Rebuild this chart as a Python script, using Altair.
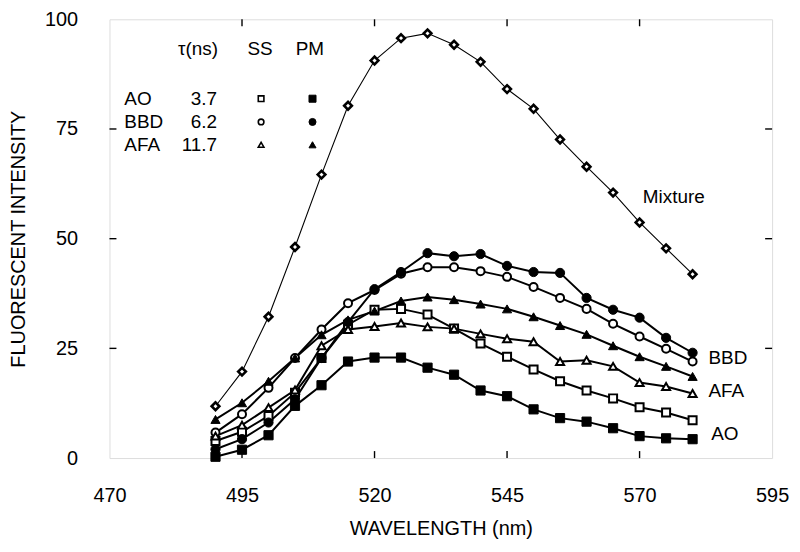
import altair as alt
import pandas as pd

# ---------------- data ----------------
wavelengths = [490, 495, 500, 505, 510, 515, 520, 525, 530, 535,
               540, 545, 550, 555, 560, 565, 570, 575, 580]

mixture = [11.8, 19.7, 32.2, 48.1, 64.6, 80.3, 90.6, 95.7, 96.8, 94.2,
           90.3, 84.1, 79.6, 72.6, 66.4, 60.5, 53.7, 47.8, 41.9]

ao_ss = [3.9, 6.0, 9.6, 14.9, 22.8, 30.4, 33.8, 34.0, 32.7, 29.5,
         26.1, 23.1, 20.2, 17.5, 15.4, 13.6, 11.6, 10.4, 8.6]
ao_pm = [0.3, 1.9, 5.2, 11.9, 16.6, 22.0, 22.9, 22.9, 20.6, 19.0,
         15.4, 14.1, 11.1, 9.1, 8.3, 6.8, 5.0, 4.5, 4.3]
bbd_ss = [5.8, 10.0, 16.0, 22.8, 29.3, 35.3, 38.3, 42.0, 43.5, 43.5,
          42.6, 41.3, 39.0, 36.5, 34.0, 30.6, 27.7, 24.9, 22.0]
bbd_pm = [2.0, 4.3, 8.1, 13.4, 22.8, 31.0, 38.5, 42.4, 46.7, 46.0,
          46.5, 43.8, 42.4, 42.2, 36.5, 33.8, 32.0, 27.4, 24.0]
afa_ss = [5.0, 7.5, 11.5, 15.5, 25.6, 29.3, 30.0, 30.8, 29.9, 29.5,
          28.3, 27.2, 26.5, 22.0, 22.3, 20.9, 17.2, 16.3, 14.7]
afa_pm = [8.8, 12.6, 17.5, 22.8, 28.1, 31.5, 33.5, 35.8, 36.7, 36.1,
          35.1, 34.0, 32.2, 30.2, 28.2, 25.6, 23.1, 20.9, 18.6]

x_tick_values = [470, 495, 520, 545, 570, 595]
y_tick_values = [0, 25, 50, 75, 100]
x_inner_ticks = [495, 520, 545, 570]
y_inner_ticks = [25, 50, 75]

legend_names = ["AO", "BBD", "AFA"]
legend_lifetimes = ["3.7", "6.2", "11.7"]
legend_headers = ["τ(ns)", "SS", "PM"]
end_labels = ["Mixture", "BBD", "AFA", "AO"]

# ---------------- layout constants ----------------
FONT = "Liberation Sans"
X_DOM = [470, 595]
Y_DOM = [0, 100]
W, H = 666, 441

series = {
    "AO SS": (ao_ss, "square", False),
    "AO PM": (ao_pm, "square", True),
    "BBD SS": (bbd_ss, "circle", False),
    "BBD PM": (bbd_pm, "circle", True),
    "AFA SS": (afa_ss, "triangle-up", False),
    "AFA PM": (afa_pm, "triangle-up", True),
}

rows = []
for name, (vals, shp, fill) in series.items():
    for w, v in zip(wavelengths, vals):
        rows.append({"wl": w, "val": v, "series": name, "shape": shp, "filled": fill})
df = pd.DataFrame(rows)
mix_df = pd.DataFrame({"wl": wavelengths, "val": mixture})

xs = alt.Scale(domain=X_DOM, nice=False, zero=False)
ys = alt.Scale(domain=Y_DOM, nice=False, zero=False)

shape_scale = alt.Scale(domain=list(series.keys()),
                        range=[v[1] for v in series.values()])

x_axis = alt.Axis(values=x_tick_values, ticks=False, tickSize=0, domain=False, grid=False,
                  labelFont=FONT, labelFontSize=20, labelColor="black", labelPadding=28,
                  labelFlush=False,
                  title="WAVELENGTH (nm)", titleFont=FONT, titleFontSize=20,
                  titleFontWeight="normal", titleColor="black", titlePadding=13)
y_axis = alt.Axis(values=y_tick_values, ticks=False, tickSize=0, domain=False, grid=False,
                  labelFont=FONT, labelFontSize=20, labelColor="black", labelPadding=32,
                  labelFlush=False,
                  title="FLUORESCENT INTENSITY", titleFont=FONT, titleFontSize=20,
                  titleFontWeight="normal", titleColor="black", titlePadding=16)

base = alt.Chart(df)

lines = base.mark_line(color="black", strokeWidth=2).encode(
    x=alt.X("wl:Q", scale=xs, axis=x_axis),
    y=alt.Y("val:Q", scale=ys, axis=y_axis),
    detail="series:N",
)

open_pts = base.transform_filter("!datum.filled").mark_point(
    filled=True, fill="white", stroke="black", strokeWidth=2, size=65, opacity=1
).encode(
    x=alt.X("wl:Q", scale=xs), y=alt.Y("val:Q", scale=ys),
    shape=alt.Shape("series:N", scale=shape_scale, legend=None),
)
filled_pts = base.transform_filter("datum.filled").mark_point(
    filled=True, fill="black", stroke="black", strokeWidth=1, size=85, opacity=1
).encode(
    x=alt.X("wl:Q", scale=xs), y=alt.Y("val:Q", scale=ys),
    shape=alt.Shape("series:N", scale=shape_scale, legend=None),
)

mix_line = alt.Chart(mix_df).mark_line(color="black", strokeWidth=1.1).encode(
    x=alt.X("wl:Q", scale=xs), y=alt.Y("val:Q", scale=ys))
mix_pts = alt.Chart(mix_df).mark_point(
    shape="diamond", filled=True, fill="white", stroke="black", strokeWidth=2.6, size=60, opacity=1
).encode(x=alt.X("wl:Q", scale=xs), y=alt.Y("val:Q", scale=ys))

# inward tick marks on all four sides
tx = pd.DataFrame({"t": x_inner_ticks})
ty = pd.DataFrame({"t": y_inner_ticks})
tick_len = 7
ticks = [
    alt.Chart(tx).mark_rule(color="black", strokeWidth=1.4).encode(
        x=alt.X("t:Q", scale=xs), y=alt.value(H), y2=alt.value(H - tick_len)),
    alt.Chart(tx).mark_rule(color="black", strokeWidth=1.4).encode(
        x=alt.X("t:Q", scale=xs), y=alt.value(0), y2=alt.value(tick_len)),
    alt.Chart(ty).mark_rule(color="black", strokeWidth=1.4).encode(
        y=alt.Y("t:Q", scale=ys), x=alt.value(0), x2=alt.value(tick_len)),
    alt.Chart(ty).mark_rule(color="black", strokeWidth=1.4).encode(
        y=alt.Y("t:Q", scale=ys), x=alt.value(W), x2=alt.value(W - tick_len)),
]

# legend block (text + marker samples) placed in data coordinates
row_y = [81.9, 76.6, 71.4]
head_y = 93.2
name_df = pd.DataFrame({"x": [472.8] * 3, "y": row_y, "t": legend_names})
life_df = pd.DataFrame({"x": [490.3] * 3, "y": row_y, "t": legend_lifetimes})
head_df = pd.DataFrame({"x": [486.7, 498.4, 507.8], "y": [head_y] * 3, "t": legend_headers})

leg_open = pd.DataFrame({"x": [498.6] * 3, "y": row_y,
                         "series": ["AO SS", "BBD SS", "AFA SS"]})
leg_fill = pd.DataFrame({"x": [508.3] * 3, "y": row_y,
                         "series": ["AO PM", "BBD PM", "AFA PM"]})

end_df = pd.DataFrame({"x": [570.6, 583.0, 583.0, 583.5],
                       "y": [59.4, 22.9, 15.2, 5.4], "t": end_labels})

def text_layer(d, align):
    return alt.Chart(d).mark_text(font=FONT, fontSize=19, color="black",
                                  align=align, baseline="middle").encode(
        x=alt.X("x:Q", scale=xs), y=alt.Y("y:Q", scale=ys), text="t:N")

leg_open_pts = alt.Chart(leg_open).mark_point(
    filled=True, fill="white", stroke="black", strokeWidth=1.6, size=32, opacity=1
).encode(x=alt.X("x:Q", scale=xs), y=alt.Y("y:Q", scale=ys),
         shape=alt.Shape("series:N", scale=shape_scale, legend=None))
leg_fill_pts = alt.Chart(leg_fill).mark_point(
    filled=True, fill="black", stroke="black", strokeWidth=1, size=50, opacity=1
).encode(x=alt.X("x:Q", scale=xs), y=alt.Y("y:Q", scale=ys),
         shape=alt.Shape("series:N", scale=shape_scale, legend=None))

chart = alt.layer(
    lines, mix_line, *ticks, open_pts, filled_pts, mix_pts,
    text_layer(name_df, "left"), text_layer(life_df, "right"),
    text_layer(head_df, "center"), text_layer(end_df, "left"),
    leg_open_pts, leg_fill_pts,
).properties(
    width=W, height=H,
    autosize=alt.AutoSizeParams(type="none"),
    padding={"left": 102, "top": 10, "right": 20, "bottom": 80},
).configure_view(
    stroke="black", strokeWidth=1.6
).configure(background="white")

chart.save("out.html", embed_options={"renderer": "svg", "actions": False})
